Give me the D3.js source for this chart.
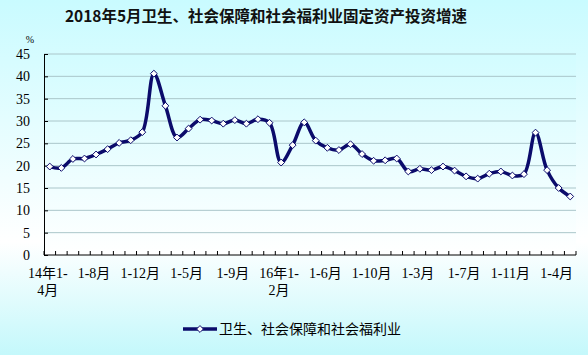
<!DOCTYPE html>
<html>
<head>
<meta charset="utf-8">
<script src="https://cdn.jsdelivr.net/npm/d3@7"></script>
<style>
  html, body { margin: 0; padding: 0; }
  svg { display: block; }
</style>
</head>
<body>
<svg></svg>
<script>
// periods: 2014 1-4月 .. 2018 1-5月 (1-2月 merged)
let categories = [
  "2014年1-4月", "2014年1-5月", "2014年1-6月", "2014年1-7月", "2014年1-8月", "2014年1-9月",
  "2014年1-10月", "2014年1-11月", "2014年1-12月",
  "2015年1-2月", "2015年1-3月", "2015年1-4月", "2015年1-5月", "2015年1-6月", "2015年1-7月",
  "2015年1-8月", "2015年1-9月", "2015年1-10月", "2015年1-11月", "2015年1-12月",
  "2016年1-2月", "2016年1-3月", "2016年1-4月", "2016年1-5月", "2016年1-6月", "2016年1-7月",
  "2016年1-8月", "2016年1-9月", "2016年1-10月", "2016年1-11月", "2016年1-12月",
  "2017年1-2月", "2017年1-3月", "2017年1-4月", "2017年1-5月", "2017年1-6月", "2017年1-7月",
  "2017年1-8月", "2017年1-9月", "2017年1-10月", "2017年1-11月", "2017年1-12月",
  "2018年1-2月", "2018年1-3月", "2018年1-4月", "2018年1-5月"
];
let growth = [
  19.8, 19.5, 21.5, 21.6, 22.5, 23.7, 25.1, 25.7, 27.5,
  40.6, 33.4, 26.3, 28.3, 30.3, 30.1, 29.4, 30.2, 29.4, 30.4, 29.6,
  20.7, 24.6, 29.7, 25.6, 24.0, 23.5, 24.8, 22.6, 21.1, 21.2, 21.6,
  18.7, 19.3, 19.0, 19.8, 18.9, 17.6, 17.1, 18.2, 18.7, 17.8, 18.1,
  27.4, 19.0, 15.0, 13.1
];
// shown every 4th category, as wrapped lines
let tickLabels = [
  ["14年1-", "4月"], ["1-8月"], ["1-12月"], ["1-5月"], ["1-9月"], ["16年1-", "2月"],
  ["1-6月"], ["1-10月"], ["1-3月"], ["1-7月"], ["1-11月"], ["1-4月"]
];
let yTicks = [0, 5, 10, 15, 20, 25, 30, 35, 40, 45];
let seriesName = "卫生、社会保障和社会福利业";
let title = "2018年5月卫生、社会保障和社会福利业固定资产投资增速";

let width = 588;
let height = 355;
let plotLeft = 44, plotRight = 576, plotTop = 54, plotBottom = 255;
let lineColor = "#0b0b6b";
let serif = "'Liberation Serif', 'Noto Sans CJK SC', serif";
let cjk = "'Noto Sans CJK SC', sans-serif";

let svg = d3.select("svg").attr("width", width).attr("height", height);

let defs = svg.append("defs");
let bg = defs.append("linearGradient").attr("id", "bg")
  .attr("x1", 0).attr("y1", 0).attr("x2", 0).attr("y2", 1);
bg.append("stop").attr("offset", "0%").attr("stop-color", "#c9fbff");
bg.append("stop").attr("offset", "68%").attr("stop-color", "#ffffff");
bg.append("stop").attr("offset", "100%").attr("stop-color", "#c4f8fb");

let pg = defs.append("linearGradient").attr("id", "plotbg")
  .attr("x1", 0).attr("y1", 0).attr("x2", 0).attr("y2", 1);
pg.append("stop").attr("offset", "0%").attr("stop-color", "#d2fcff");
pg.append("stop").attr("offset", "100%").attr("stop-color", "#ffffff");

svg.append("rect").attr("width", width).attr("height", height).attr("fill", "url(#bg)");
svg.append("rect").attr("x", plotLeft).attr("y", plotTop)
  .attr("width", plotRight - plotLeft).attr("height", plotBottom - plotTop).attr("fill", "url(#plotbg)");

let xScale = d3.scaleBand().domain(d3.range(categories.length)).range([plotLeft, plotRight]).padding(0);
let yScale = d3.scaleLinear().domain([0, 45]).range([plotBottom, plotTop]);

// gridlines
svg.append("g")
  .selectAll("line")
  .data(yTicks.slice(1))
  .enter()
  .append("line")
  .attr("x1", plotLeft).attr("x2", plotRight)
  .attr("y1", (d) => yScale(d)).attr("y2", (d) => yScale(d))
  .attr("stroke", "#aac6ca").attr("stroke-width", 1);

// y axis
let yAxis = d3.axisLeft(yScale).tickValues(yTicks).tickSize(-4).tickPadding(14);
let yg = svg.append("g").attr("transform", "translate(" + plotLeft + ",0)").call(yAxis);
yg.select(".domain").attr("stroke", "#000");
yg.selectAll(".tick line").attr("stroke", "#000");
yg.selectAll("text").attr("font-family", serif).attr("font-size", 14).attr("fill", "#000");

// x axis: ticks between categories
let xg = svg.append("g").attr("transform", "translate(0," + plotBottom + ")");
xg.append("line").attr("x1", plotLeft).attr("x2", plotRight).attr("stroke", "#000");
xg.selectAll(".xt")
  .data(d3.range(categories.length + 1))
  .enter()
  .append("line")
  .attr("class", "xt")
  .attr("x1", (i) => plotLeft + i * xScale.bandwidth())
  .attr("x2", (i) => plotLeft + i * xScale.bandwidth())
  .attr("y1", 0).attr("y2", -4)
  .attr("stroke", "#000");

let labelGroups = xg.selectAll(".xl")
  .data(tickLabels)
  .enter()
  .append("text")
  .attr("class", "xl")
  .attr("text-anchor", "middle")
  .attr("font-family", serif)
  .attr("font-size", 14)
  .attr("fill", "#000");
labelGroups.each(function (lines, k) {
  let cx = xScale(k * 4) + xScale.bandwidth() / 2 - 2;
  d3.select(this).selectAll("tspan")
    .data(lines)
    .enter()
    .append("tspan")
    .attr("x", cx)
    .attr("y", (d, j) => 23 + j * 17)
    .text((d) => d);
});

// series line
let line = d3.line()
  .x((d, i) => xScale(i) + xScale.bandwidth() / 2)
  .y((d) => yScale(d))
  .curve(d3.curveCatmullRom.alpha(0.5));

svg.append("path")
  .datum(growth)
  .attr("d", line)
  .attr("fill", "none")
  .attr("stroke", lineColor)
  .attr("stroke-width", 3.5)
  .attr("stroke-linejoin", "round");

let diamond = d3.symbol().type(d3.symbolDiamond2).size(30);
svg.append("g")
  .selectAll("path")
  .data(growth)
  .enter()
  .append("path")
  .attr("d", diamond)
  .attr("transform", (d, i) => "translate(" + (xScale(i) + xScale.bandwidth() / 2) + "," + yScale(d) + ")")
  .attr("fill", "#fff")
  .attr("stroke", lineColor)
  .attr("stroke-width", 1);

// % unit
svg.append("text").attr("x", 30).attr("y", 43).attr("text-anchor", "middle")
  .attr("font-family", serif).attr("font-size", 10).text("%");

// title
svg.append("text").attr("x", 266).attr("y", 22).attr("text-anchor", "middle")
  .attr("font-family", cjk).attr("font-weight", "bold").attr("font-size", 15.5)
  .attr("fill", "#111").text(title);

// legend
let lg = svg.append("g");
lg.append("line").attr("x1", 183).attr("x2", 217).attr("y1", 329).attr("y2", 329)
  .attr("stroke", lineColor).attr("stroke-width", 3.5);
lg.append("path").attr("d", diamond).attr("transform", "translate(200,329)")
  .attr("fill", "#fff").attr("stroke", lineColor).attr("stroke-width", 1);
lg.append("text").attr("x", 219).attr("y", 334).attr("font-family", cjk)
  .attr("font-size", 14).attr("fill", "#000").text(seriesName);
</script>
</body>
</html>
